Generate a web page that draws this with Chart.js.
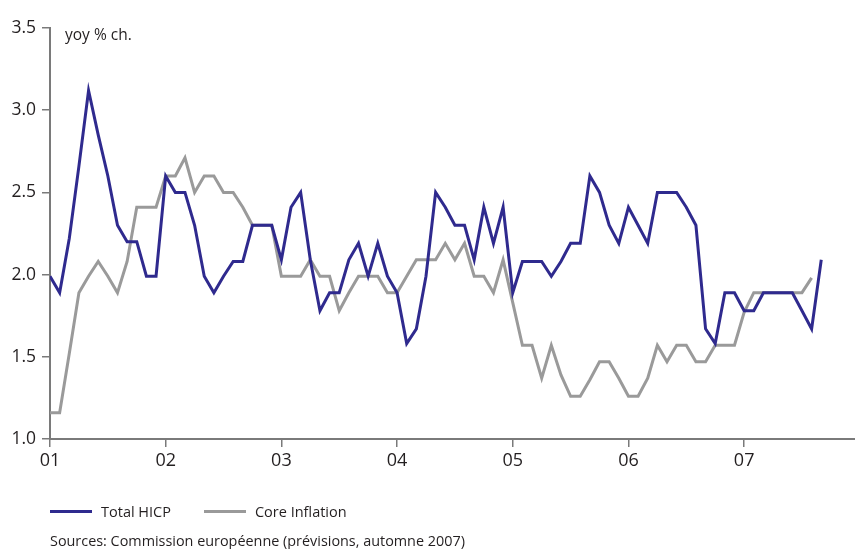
<!DOCTYPE html>
<html>
<head>
<meta charset="utf-8">
<script src="https://cdn.jsdelivr.net/npm/chart.js@4.4.1/dist/chart.umd.min.js"></script>
<style>
  html, body { margin: 0; padding: 0; background: #fff; }
  #wrap { position: relative; width: 855px; height: 549px; overflow: hidden; font-family: "Open Sans", "Noto Sans", sans-serif; color: #231f20; }
  #chart { position: absolute; left: 0; top: 0; }
  .unit { position: absolute; left: 65px; top: 23px; font-size: 15.5px; }
  .legend { position: absolute; top: 502px; left: 50px; font-size: 14.5px; display: flex; align-items: center; }
  .legend .item { display: flex; align-items: center; margin-right: 33px; }
  .legend .swatch { width: 42px; height: 3px; margin-right: 9px; }
  .source { position: absolute; left: 50px; top: 531px; font-size: 14.4px; }
</style>
</head>
<body>
<div id="wrap">
  <canvas id="chart" width="855" height="549"></canvas>
  <div class="unit">yoy % ch.</div>
  <div class="legend">
    <div class="item"><span class="swatch" style="background:#2f2a8e"></span>Total HICP</div>
    <div class="item"><span class="swatch" style="background:#9a9a9a"></span>Core Inflation</div>
  </div>
  <div class="source">Sources: Commission européenne (prévisions, automne 2007)</div>
</div>
<script>
// Monthly year-on-year rates, January 2001 onwards
const yearLabels = ['01', '02', '03', '04', '05', '06', '07'];

const totalHICP = [
  1.99, 1.89, 2.22, 2.66, 3.12, 2.85, 2.60, 2.30, 2.20, 2.20, 1.99, 1.99,   // 2001
  2.60, 2.50, 2.50, 2.30, 1.99, 1.89, 1.99, 2.08, 2.08, 2.30, 2.30, 2.30,   // 2002
  2.09, 2.41, 2.50, 2.09, 1.78, 1.89, 1.89, 2.09, 2.19, 1.99, 2.19, 1.99,   // 2003
  1.89, 1.58, 1.67, 1.99, 2.50, 2.41, 2.30, 2.30, 2.09, 2.41, 2.19, 2.41,   // 2004
  1.89, 2.08, 2.08, 2.08, 1.99, 2.08, 2.19, 2.19, 2.60, 2.50, 2.30, 2.19,   // 2005
  2.41, 2.30, 2.19, 2.50, 2.50, 2.50, 2.41, 2.30, 1.67, 1.58, 1.89, 1.89,   // 2006
  1.78, 1.78, 1.89, 1.89, 1.89, 1.89, 1.78, 1.67, 2.09                      // 2007
];

const coreInflation = [
  1.16, 1.16, 1.52, 1.89, 1.99, 2.08, 1.99, 1.89, 2.08, 2.41, 2.41, 2.41,   // 2001
  2.60, 2.60, 2.71, 2.50, 2.60, 2.60, 2.50, 2.50, 2.41, 2.30, 2.30, 2.30,   // 2002
  1.99, 1.99, 1.99, 2.09, 1.99, 1.99, 1.78, 1.89, 1.99, 1.99, 1.99, 1.89,   // 2003
  1.89, 1.99, 2.09, 2.09, 2.09, 2.19, 2.09, 2.19, 1.99, 1.99, 1.89, 2.09,   // 2004
  1.83, 1.57, 1.57, 1.37, 1.57, 1.39, 1.26, 1.26, 1.36, 1.47, 1.47, 1.37,   // 2005
  1.26, 1.26, 1.37, 1.57, 1.47, 1.57, 1.57, 1.47, 1.47, 1.57, 1.57, 1.57,   // 2006
  1.77, 1.89, 1.89, 1.89, 1.89, 1.89, 1.89, 1.98                            // 2007
];

const toPoints = arr => arr.map((v, i) => ({ x: i, y: v }));

const axisGrey = '#7a7a7a';
const fontFamily = '"Open Sans", "Noto Sans", sans-serif';

new Chart(document.getElementById('chart'), {
  type: 'line',
  data: {
    datasets: [
      {
        label: 'Total HICP',
        data: toPoints(totalHICP),
        borderColor: '#2f2a8e',
        borderWidth: 3,
        pointRadius: 0,
        tension: 0
      },
      {
        label: 'Core Inflation',
        data: toPoints(coreInflation),
        borderColor: '#9a9a9a',
        borderWidth: 3,
        pointRadius: 0,
        tension: 0
      }
    ]
  },
  options: {
    responsive: false,
    animation: false,
    events: [],
    layout: { padding: { top: 28, right: 0, left: 0, bottom: 0 } },
    plugins: { legend: { display: false }, tooltip: { enabled: false } },
    scales: {
      x: {
        type: 'linear',
        min: 0,
        max: 83.5,
        afterBuildTicks: scale => {
          scale.ticks = yearLabels.map((_, k) => ({ value: k * 12 }));
        },
        afterFit: scale => { scale.height = 110; },
        ticks: {
          autoSkip: false,
          maxRotation: 0,
          padding: 3,
          color: '#231f20',
          font: { family: fontFamily, size: 18 },
          callback: v => yearLabels[v / 12]
        },
        grid: { drawOnChartArea: false, tickLength: 8, color: axisGrey, lineWidth: 1.5 },
        border: { color: axisGrey, width: 2 }
      },
      y: {
        min: 1.0,
        max: 3.5,
        afterFit: scale => { scale.width = 50; },
        ticks: {
          stepSize: 0.5,
          padding: 6,
          color: '#231f20',
          font: { family: fontFamily, size: 17.5 },
          callback: v => v.toFixed(1)
        },
        grid: { drawOnChartArea: false, tickLength: 8, color: axisGrey, lineWidth: 1.5 },
        border: { color: axisGrey, width: 2 }
      }
    }
  }
});
</script>
</body>
</html>
